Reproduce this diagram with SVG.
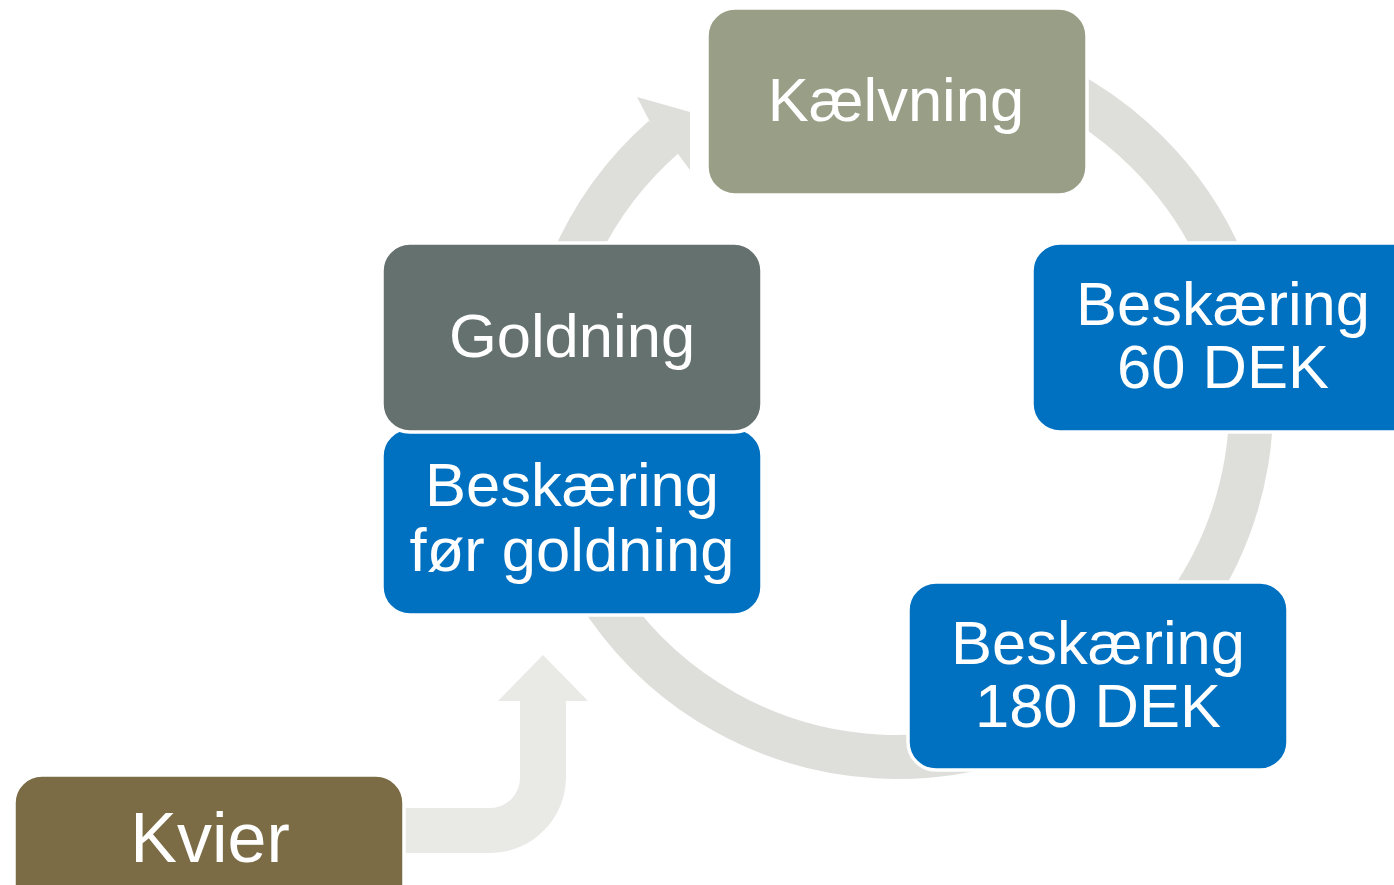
<svg xmlns="http://www.w3.org/2000/svg" width="1394" height="885" viewBox="0 0 1394 885">
<style>
.box{stroke:#ffffff;stroke-width:3.5}
.t{font-family:"Liberation Sans",Arial,sans-serif;font-size:61.5px;fill:#ffffff;text-anchor:middle}
</style>
<rect width="1394" height="885" fill="#ffffff"/>
<g id="connectors">
<path d="M 835.5 54.4 A 354 354 0 1 1 663.4 137.3" fill="none" stroke="#DEDFDA" stroke-width="44"/>
<polygon points="649,120 637,97 690,112 690,170 678,154 660,140" fill="#DEDFDA"/>
<path d="M 400 808 L 490 808 A 30 30 0 0 0 520 778 L 520 701 L 498 701 L 543 655 L 588 701 L 566 701 L 566 778 A 76 76 0 0 1 490 853 L 400 853 Z" fill="#E9EAE6"/>
</g>
<g id="kaelvning">
<rect class="box" x="707" y="8" width="380" height="187" rx="28" fill="#999E86"/>
<text class="t" x="896" y="121">Kælvning</text>
</g>
<g id="beskaering60">
<rect class="box" x="1032" y="243" width="390" height="189" rx="28" fill="#0070C0"/>
<text class="t" x="1223" y="325">Beskæring</text>
<text class="t" x="1223" y="388">60 DEK</text>
</g>
<g id="beskaering180">
<rect class="box" x="908" y="582" width="380" height="188" rx="28" fill="#0070C0"/>
<text class="t" x="1098" y="664">Beskæring</text>
<text class="t" x="1098" y="727">180 DEK</text>
</g>
<g id="beskaeringfor">
<rect class="box" x="382" y="428" width="380" height="187" rx="28" fill="#0070C0"/>
<text class="t" x="572" y="506">Beskæring</text>
<text class="t" x="572" y="571">før goldning</text>
</g>
<g id="goldning">
<rect class="box" x="382" y="243" width="380" height="189" rx="28" fill="#64716F"/>
<text class="t" x="572" y="357">Goldning</text>
</g>
<g id="kvier">
<rect class="box" x="14" y="775" width="390" height="140" rx="28" fill="#7B6C45"/>
<text class="t" x="210" y="862" style="font-size:70px">Kvier</text>
</g>
</svg>
